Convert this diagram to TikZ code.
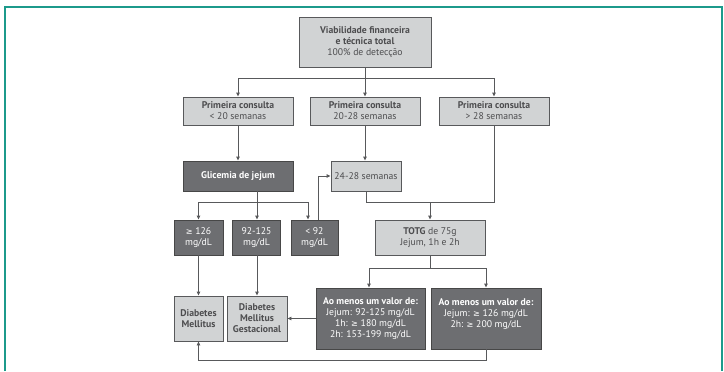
\documentclass[tikz,border=0pt]{standalone}
\usepackage{fontspec}
\setmainfont{PT Sans}
\newfontfamily\symfont{DejaVu Sans}[Scale=0.85]
\newcommand\gsym{{\symfont ≥}}
\usetikzlibrary{arrows.meta}
\definecolor{teal}{HTML}{1C9A8B}
\definecolor{lightbox}{HTML}{D1D3D4}
\definecolor{darkbox}{HTML}{6D6E71}
\definecolor{edge}{HTML}{58595B}
\definecolor{txt}{HTML}{4D4D4F}
\tikzset{
  base/.style={draw=edge, line width=0.9bp, inner sep=0pt, align=center,
    font=\fontsize{9.7bp}{11bp}\selectfont},
  lbox/.style={base, fill=lightbox, text=txt},
  dbox/.style={base, fill=darkbox, draw=black!72, text=white},
  conn/.style={draw=edge, line width=0.9bp},
  arr/.style={conn, -{Triangle[length=4bp,width=3.5bp]}}
}
\begin{document}
\begin{tikzpicture}[x=1bp,y=-1bp]
\useasboundingbox (0,0) rectangle (724,371);
% frame
\draw[teal, line width=1.6bp] (5,371) -- (5,7) -- (722,7) -- (722,371);
% nodes
\node[lbox, minimum width=132bp, minimum height=50bp] (top) at (365,42)
  {\textbf{Viabilidade financeira}\\\textbf{e técnica total}\\100\% de detecção};
\node[lbox, minimum width=110bp, minimum height=28bp] (p1) at (238,111)
  {\textbf{Primeira consulta}\\< 20 semanas};
\node[lbox, minimum width=110bp, minimum height=28bp] (p2) at (365,111)
  {\textbf{Primeira consulta}\\20-28 semanas};
\node[lbox, minimum width=110bp, minimum height=28bp] (p3) at (494,111)
  {\textbf{Primeira consulta}\\> 28 semanas};
\node[dbox, minimum width=110bp, minimum height=30bp] (gli) at (238,176)
  {\textbf{Glicemia de jejum}};
\node[lbox, minimum width=70bp, minimum height=30bp] (s24) at (366,176)
  {24-28 semanas};
\node[dbox, minimum width=49bp, minimum height=35bp] (g1) at (198.5,237.5)
  {\gsym\ 126\\mg/dL};
\node[dbox, minimum width=48bp, minimum height=35bp] (g2) at (256.5,237.5)
  {92-125\\mg/dL};
\node[dbox, minimum width=47bp, minimum height=35bp] (g3) at (314.5,237.5)
  {< 92\\mg/dL};
\node[lbox, minimum width=110bp, minimum height=35bp] (totg) at (430,237.5)
  {\textbf{TOTG} de 75g\\Jejum, 1h e 2h};
\node[dbox, minimum width=109bp, minimum height=61bp] (a1) at (370.5,318.5)
  {\textbf{Ao menos um valor de:}\\Jejum: 92-125 mg/dL\\1h: \gsym\ 180 mg/dL\\2h: 153-199 mg/dL};
\node[dbox, minimum width=110bp, minimum height=61bp] (a2) at (486,318.5)
  {\textbf{Ao menos um valor de:}\\Jejum: \gsym\ 126 mg/dL\\2h: \gsym\ 200 mg/dL\\\phantom{2h: 153}};
\node[lbox, minimum width=49bp, minimum height=45bp] (dm) at (198.5,318.5)
  {\textbf{Diabetes}\\\textbf{Mellitus}};
\node[lbox, minimum width=60bp, minimum height=45bp] (dmg) at (257,318.5)
  {\textbf{Diabetes}\\\textbf{Mellitus}\\\textbf{Gestacional}};
% junction coordinates
\coordinate (j1) at (365,78);
\coordinate (j2) at (257,202);
\coordinate (j3) at (430,202);
\coordinate (j4) at (430,268);
% connectors
\draw[conn] (top.south) -- (j1);
\draw[arr] (j1) -| (p1.north);
\draw[arr] (j1) -- (p2.north);
\draw[arr] (j1) -| (p3.north);
\draw[arr] (p1.south) -- (gli.north);
\draw[arr] (p2.south) -- (s24.north -| p2.south);
\draw[conn] (gli.south -| j2) -- (j2);
\draw[arr] (j2) -| (g1.north);
\draw[arr] (j2) -- (g2.north -| j2);
\draw[arr] (j2) -| ([xshift=-6.5bp]g3.north);
\draw[arr] ([xshift=3.5bp]g3.north) |- (s24.west);
\draw[conn] (s24.south) |- (j3);
\draw[conn] (p3.south) |- (j3);
\draw[arr] (j3) -- (totg.north);
\draw[conn] (totg.south) -- (j4);
\draw[arr] (j4) -| ([xshift=-1.5bp]a1.north);
\draw[arr] (j4) -| (a2.north);
\draw[arr] (a1.west) -- (dmg.east);
\draw[arr] (g1.south) -- (dm.north);
\draw[arr] (g2.south -| dmg.north) -- (dmg.north);
\draw[arr] (a2.south) -- ++(0,11) -| (dm.south);
\end{tikzpicture}
\end{document}
